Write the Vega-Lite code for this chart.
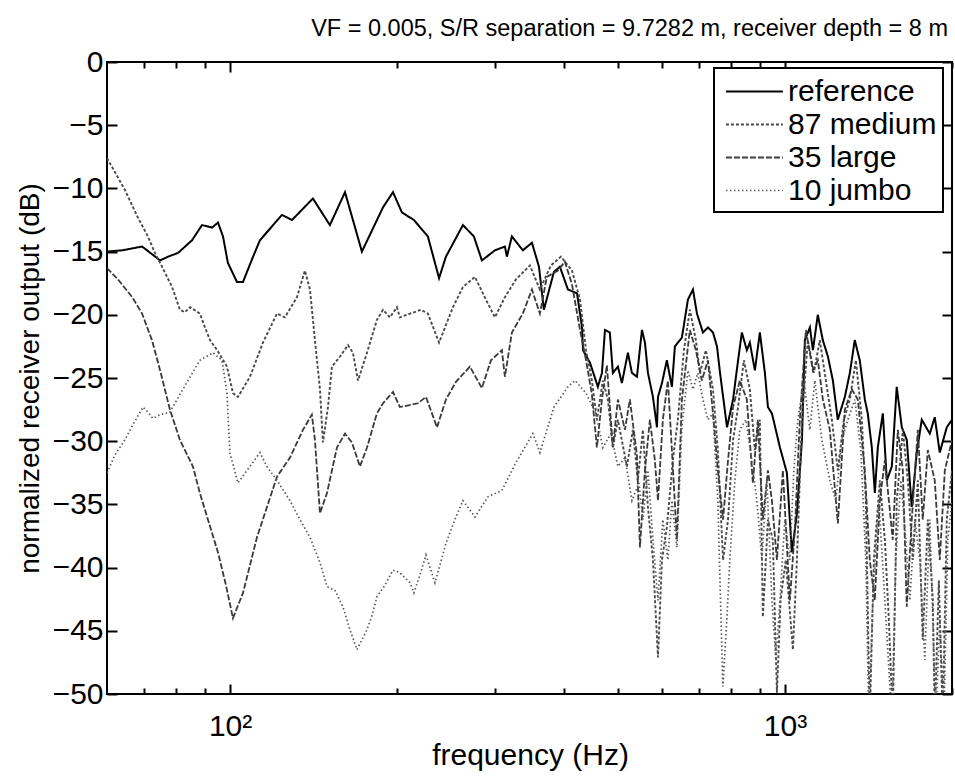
{
"$schema": "https://vega.github.io/schema/vega-lite/v6.json",
"width": 845, "height": 632,
"autosize": {"type": "none"},
"padding": {"left": 107, "top": 62, "right": 3, "bottom": 83},
"background": "white",
"title": {"text": "VF = 0.005, S/R separation = 9.7282 m, receiver depth = 8 m", "anchor": "end", "frame": "group", "font": "Liberation Sans", "fontSize": 23.5, "fontWeight": "normal", "color": "#000", "baseline": "alphabetic", "offset": -12, "dx": -4},
"config": {"view": {"stroke": "#000", "strokeWidth": 2}, "font": "Liberation Sans", "legend": {"strokeWidth": 2}},
"datasets": {
"d": [
{"s":"reference","f":60,"dB":-15.0},{"s":"reference","f":63.9,"dB":-14.9},{"s":"reference","f":69.4,"dB":-14.6},{"s":"reference","f":74.8,"dB":-15.7},{"s":"reference","f":77.3,"dB":-15.4},{"s":"reference","f":80.6,"dB":-15.1},{"s":"reference","f":85.4,"dB":-14.1},{"s":"reference","f":89.0,"dB":-12.9},{"s":"reference","f":92.8,"dB":-13.1},{"s":"reference","f":95.1,"dB":-12.7},{"s":"reference","f":97.1,"dB":-13.8},{"s":"reference","f":99.1,"dB":-15.9},{"s":"reference","f":102.9,"dB":-17.4},{"s":"reference","f":105.5,"dB":-17.4},{"s":"reference","f":110.0,"dB":-15.4},{"s":"reference","f":113.2,"dB":-14.1},{"s":"reference","f":124.0,"dB":-12.1},{"s":"reference","f":129.3,"dB":-12.5},{"s":"reference","f":141.0,"dB":-10.8},{"s":"reference","f":151.3,"dB":-12.9},{"s":"reference","f":161.1,"dB":-10.3},{"s":"reference","f":172.8,"dB":-15.0},{"s":"reference","f":188.6,"dB":-11.5},{"s":"reference","f":196.6,"dB":-10.3},{"s":"reference","f":204.0,"dB":-11.9},{"s":"reference","f":214.4,"dB":-12.5},{"s":"reference","f":227.2,"dB":-13.8},{"s":"reference","f":238.0,"dB":-17.1},{"s":"reference","f":244.9,"dB":-15.4},{"s":"reference","f":262.8,"dB":-12.9},{"s":"reference","f":275.0,"dB":-13.8},{"s":"reference","f":284.3,"dB":-15.7},{"s":"reference","f":300.1,"dB":-14.9},{"s":"reference","f":312.8,"dB":-14.6},{"s":"reference","f":315.4,"dB":-15.4},{"s":"reference","f":322.0,"dB":-13.8},{"s":"reference","f":337.0,"dB":-14.9},{"s":"reference","f":349.9,"dB":-14.3},{"s":"reference","f":360.3,"dB":-16.2},{"s":"reference","f":367.7,"dB":-19.6},{"s":"reference","f":383.4,"dB":-16.6},{"s":"reference","f":393.0,"dB":-16.2},{"s":"reference","f":406.3,"dB":-18.0},{"s":"reference","f":421.9,"dB":-18.3},{"s":"reference","f":430.8,"dB":-21.0},{"s":"reference","f":432.5,"dB":-22.8},{"s":"reference","f":445.3,"dB":-23.8},{"s":"reference","f":460.1,"dB":-25.7},{"s":"reference","f":467.9,"dB":-24.6},{"s":"reference","f":473.8,"dB":-21.2},{"s":"reference","f":483.5,"dB":-21.4},{"s":"reference","f":489.6,"dB":-24.6},{"s":"reference","f":499.9,"dB":-24.1},{"s":"reference","f":508.3,"dB":-25.4},{"s":"reference","f":521.1,"dB":-23.0},{"s":"reference","f":529.9,"dB":-24.6},{"s":"reference","f":541.0,"dB":-24.9},{"s":"reference","f":552.4,"dB":-21.2},{"s":"reference","f":559.3,"dB":-22.2},{"s":"reference","f":566.3,"dB":-24.6},{"s":"reference","f":578.2,"dB":-26.5},{"s":"reference","f":587.9,"dB":-28.9},{"s":"reference","f":590.4,"dB":-26.5},{"s":"reference","f":600.2,"dB":-25.4},{"s":"reference","f":612.6,"dB":-23.6},{"s":"reference","f":625.5,"dB":-25.7},{"s":"reference","f":633.3,"dB":-22.5},{"s":"reference","f":652.0,"dB":-21.8},{"s":"reference","f":668.5,"dB":-18.8},{"s":"reference","f":682.6,"dB":-18.0},{"s":"reference","f":694.0,"dB":-19.9},{"s":"reference","f":711.5,"dB":-21.4},{"s":"reference","f":726.4,"dB":-21.0},{"s":"reference","f":741.8,"dB":-21.4},{"s":"reference","f":754.2,"dB":-22.5},{"s":"reference","f":763.8,"dB":-24.6},{"s":"reference","f":786.3,"dB":-28.9},{"s":"reference","f":806.2,"dB":-26.7},{"s":"reference","f":823.2,"dB":-23.6},{"s":"reference","f":836.2,"dB":-21.4},{"s":"reference","f":853.7,"dB":-22.8},{"s":"reference","f":864.4,"dB":-22.2},{"s":"reference","f":882.6,"dB":-24.4},{"s":"reference","f":901.1,"dB":-21.4},{"s":"reference","f":920.1,"dB":-24.6},{"s":"reference","f":931.7,"dB":-27.3},{"s":"reference","f":947.3,"dB":-27.8},{"s":"reference","f":979.4,"dB":-30.5},{"s":"reference","f":1008,"dB":-32.5},{"s":"reference","f":1029,"dB":-38.8},{"s":"reference","f":1051,"dB":-35.7},{"s":"reference","f":1073,"dB":-29.9},{"s":"reference","f":1086,"dB":-22.0},{"s":"reference","f":1109,"dB":-21.0},{"s":"reference","f":1123,"dB":-22.8},{"s":"reference","f":1146,"dB":-20.0},{"s":"reference","f":1170,"dB":-22.0},{"s":"reference","f":1195,"dB":-23.3},{"s":"reference","f":1220,"dB":-25.2},{"s":"reference","f":1245,"dB":-28.3},{"s":"reference","f":1282,"dB":-26.5},{"s":"reference","f":1309,"dB":-24.6},{"s":"reference","f":1336,"dB":-22.0},{"s":"reference","f":1364,"dB":-23.6},{"s":"reference","f":1393,"dB":-26.7},{"s":"reference","f":1410,"dB":-27.8},{"s":"reference","f":1434,"dB":-30.5},{"s":"reference","f":1452,"dB":-34.1},{"s":"reference","f":1470,"dB":-30.5},{"s":"reference","f":1501,"dB":-27.8},{"s":"reference","f":1526,"dB":-33.1},{"s":"reference","f":1558,"dB":-32.0},{"s":"reference","f":1590,"dB":-25.7},{"s":"reference","f":1624,"dB":-28.9},{"s":"reference","f":1658,"dB":-29.9},{"s":"reference","f":1692,"dB":-35.2},{"s":"reference","f":1728,"dB":-30.9},{"s":"reference","f":1764,"dB":-28.3},{"s":"reference","f":1824,"dB":-29.4},{"s":"reference","f":1862,"dB":-28.1},{"s":"reference","f":1901,"dB":-30.9},{"s":"reference","f":1957,"dB":-28.9},{"s":"reference","f":2000,"dB":-28.3},

{"s":"87 medium","f":60,"dB":-7.6},{"s":"87 medium","f":64.6,"dB":-10.1},{"s":"87 medium","f":68.2,"dB":-12.3},{"s":"87 medium","f":71.1,"dB":-13.8},{"s":"87 medium","f":73.2,"dB":-15.1},{"s":"87 medium","f":75.4,"dB":-16.2},{"s":"87 medium","f":78.6,"dB":-17.8},{"s":"87 medium","f":81.2,"dB":-19.6},{"s":"87 medium","f":82.9,"dB":-19.8},{"s":"87 medium","f":84.7,"dB":-19.4},{"s":"87 medium","f":88.2,"dB":-19.9},{"s":"87 medium","f":90.1,"dB":-21.0},{"s":"87 medium","f":92.0,"dB":-22.0},{"s":"87 medium","f":95.1,"dB":-22.9},{"s":"87 medium","f":98.7,"dB":-24.1},{"s":"87 medium","f":101.2,"dB":-26.2},{"s":"87 medium","f":103.3,"dB":-26.5},{"s":"87 medium","f":108.6,"dB":-24.9},{"s":"87 medium","f":114.6,"dB":-22.2},{"s":"87 medium","f":121.5,"dB":-19.9},{"s":"87 medium","f":125.5,"dB":-20.2},{"s":"87 medium","f":132.0,"dB":-18.6},{"s":"87 medium","f":136.4,"dB":-16.5},{"s":"87 medium","f":139.3,"dB":-18.0},{"s":"87 medium","f":142.2,"dB":-22.0},{"s":"87 medium","f":145.2,"dB":-25.9},{"s":"87 medium","f":147.0,"dB":-30.1},{"s":"87 medium","f":150.1,"dB":-27.3},{"s":"87 medium","f":152.6,"dB":-24.1},{"s":"87 medium","f":157.8,"dB":-23.3},{"s":"87 medium","f":163.1,"dB":-22.4},{"s":"87 medium","f":166.5,"dB":-23.0},{"s":"87 medium","f":170.0,"dB":-25.2},{"s":"87 medium","f":176.5,"dB":-23.0},{"s":"87 medium","f":183.9,"dB":-20.4},{"s":"87 medium","f":188.6,"dB":-19.6},{"s":"87 medium","f":194.1,"dB":-20.2},{"s":"87 medium","f":199.8,"dB":-19.4},{"s":"87 medium","f":202.3,"dB":-20.2},{"s":"87 medium","f":220.7,"dB":-19.6},{"s":"87 medium","f":227.2,"dB":-19.9},{"s":"87 medium","f":238.0,"dB":-22.2},{"s":"87 medium","f":252.1,"dB":-19.4},{"s":"87 medium","f":262.8,"dB":-17.8},{"s":"87 medium","f":276.2,"dB":-17.0},{"s":"87 medium","f":289.1,"dB":-18.8},{"s":"87 medium","f":300.1,"dB":-20.2},{"s":"87 medium","f":312.8,"dB":-18.6},{"s":"87 medium","f":327.4,"dB":-17.2},{"s":"87 medium","f":347.0,"dB":-16.1},{"s":"87 medium","f":361.7,"dB":-18.0},{"s":"87 medium","f":378.6,"dB":-16.1},{"s":"87 medium","f":394.7,"dB":-15.4},{"s":"87 medium","f":413.2,"dB":-16.5},{"s":"87 medium","f":427.2,"dB":-18.8},{"s":"87 medium","f":438.0,"dB":-22.8},{"s":"87 medium","f":448.8,"dB":-25.2},{"s":"87 medium","f":458.2,"dB":-28.3},{"s":"87 medium","f":469.7,"dB":-25.2},{"s":"87 medium","f":479.6,"dB":-26.7},{"s":"87 medium","f":489.6,"dB":-30.5},{"s":"87 medium","f":499.9,"dB":-28.3},{"s":"87 medium","f":519.0,"dB":-32.0},{"s":"87 medium","f":532.0,"dB":-29.1},{"s":"87 medium","f":543.1,"dB":-33.1},{"s":"87 medium","f":554.5,"dB":-29.1},{"s":"87 medium","f":566.3,"dB":-35.2},{"s":"87 medium","f":578.2,"dB":-39.4},{"s":"87 medium","f":590.4,"dB":-47.1},{"s":"87 medium","f":600.2,"dB":-39.4},{"s":"87 medium","f":612.6,"dB":-36.8},{"s":"87 medium","f":628.0,"dB":-31.5},{"s":"87 medium","f":641.2,"dB":-28.3},{"s":"87 medium","f":657.4,"dB":-22.8},{"s":"87 medium","f":673.9,"dB":-19.6},{"s":"87 medium","f":690.9,"dB":-22.0},{"s":"87 medium","f":702.7,"dB":-24.6},{"s":"87 medium","f":720.2,"dB":-22.8},{"s":"87 medium","f":741.8,"dB":-25.9},{"s":"87 medium","f":756.9,"dB":-30.7},{"s":"87 medium","f":773.4,"dB":-39.4},{"s":"87 medium","f":789.6,"dB":-36.2},{"s":"87 medium","f":806.2,"dB":-29.9},{"s":"87 medium","f":823.2,"dB":-27.3},{"s":"87 medium","f":843.2,"dB":-23.6},{"s":"87 medium","f":864.4,"dB":-25.9},{"s":"87 medium","f":882.6,"dB":-30.7},{"s":"87 medium","f":901.1,"dB":-28.3},{"s":"87 medium","f":912.4,"dB":-43.9},{"s":"87 medium","f":931.7,"dB":-36.2},{"s":"87 medium","f":950.8,"dB":-37.8},{"s":"87 medium","f":967.2,"dB":-49.9},{"s":"87 medium","f":982.0,"dB":-42.6},{"s":"87 medium","f":1003.3,"dB":-39.4},{"s":"87 medium","f":1033.5,"dB":-46.5},{"s":"87 medium","f":1050.8,"dB":-39.4},{"s":"87 medium","f":1072.8,"dB":-28.3},{"s":"87 medium","f":1099.6,"dB":-22.0},{"s":"87 medium","f":1127.3,"dB":-24.6},{"s":"87 medium","f":1155.7,"dB":-22.0},{"s":"87 medium","f":1184.9,"dB":-25.2},{"s":"87 medium","f":1214.8,"dB":-28.3},{"s":"87 medium","f":1245.4,"dB":-32.3},{"s":"87 medium","f":1276.8,"dB":-28.3},{"s":"87 medium","f":1308.8,"dB":-26.7},{"s":"87 medium","f":1342.0,"dB":-23.6},{"s":"87 medium","f":1375.8,"dB":-28.3},{"s":"87 medium","f":1398.8,"dB":-34.7},{"s":"87 medium","f":1421.8,"dB":-52},{"s":"87 medium","f":1446.1,"dB":-39.4},{"s":"87 medium","f":1482.5,"dB":-33.1},{"s":"87 medium","f":1513.6,"dB":-37.8},{"s":"87 medium","f":1538.9,"dB":-44.1},{"s":"87 medium","f":1564.1,"dB":-52},{"s":"87 medium","f":1590.3,"dB":-34.7},{"s":"87 medium","f":1630.9,"dB":-29.1},{"s":"87 medium","f":1665.1,"dB":-33.1},{"s":"87 medium","f":1700.0,"dB":-39.4},{"s":"87 medium","f":1735.7,"dB":-33.1},{"s":"87 medium","f":1771.4,"dB":-45.7},{"s":"87 medium","f":1809.2,"dB":-36.2},{"s":"87 medium","f":1847.1,"dB":-42.6},{"s":"87 medium","f":1861.9,"dB":-52},{"s":"87 medium","f":1893.7,"dB":-41.0},{"s":"87 medium","f":1924.8,"dB":-52},{"s":"87 medium","f":1957.0,"dB":-36.2},{"s":"87 medium","f":2000,"dB":-32.3},

{"s":"35 large","f":60,"dB":-16.3},{"s":"35 large","f":62.8,"dB":-17.2},{"s":"35 large","f":66.6,"dB":-18.6},{"s":"35 large","f":69.4,"dB":-19.9},{"s":"35 large","f":72.3,"dB":-22.0},{"s":"35 large","f":74.8,"dB":-24.4},{"s":"35 large","f":77.9,"dB":-27.5},{"s":"35 large","f":81.2,"dB":-29.9},{"s":"35 large","f":85.7,"dB":-32.0},{"s":"35 large","f":88.2,"dB":-34.1},{"s":"35 large","f":95.1,"dB":-38.8},{"s":"35 large","f":98.3,"dB":-41.4},{"s":"35 large","f":101.2,"dB":-44.0},{"s":"35 large","f":105.5,"dB":-42.0},{"s":"35 large","f":111.8,"dB":-37.6},{"s":"35 large","f":121.5,"dB":-32.8},{"s":"35 large","f":128.2,"dB":-31.3},{"s":"35 large","f":135.3,"dB":-29.1},{"s":"35 large","f":140.4,"dB":-27.9},{"s":"35 large","f":142.2,"dB":-29.9},{"s":"35 large","f":145.2,"dB":-35.7},{"s":"35 large","f":149.5,"dB":-34.1},{"s":"35 large","f":155.8,"dB":-30.5},{"s":"35 large","f":161.1,"dB":-29.4},{"s":"35 large","f":165.8,"dB":-30.1},{"s":"35 large","f":171.4,"dB":-32.0},{"s":"35 large","f":176.5,"dB":-30.5},{"s":"35 large","f":183.9,"dB":-27.8},{"s":"35 large","f":188.6,"dB":-27.0},{"s":"35 large","f":196.6,"dB":-26.1},{"s":"35 large","f":202.3,"dB":-27.3},{"s":"35 large","f":218.0,"dB":-27.0},{"s":"35 large","f":225.4,"dB":-26.5},{"s":"35 large","f":236.0,"dB":-28.9},{"s":"35 large","f":244.9,"dB":-26.7},{"s":"35 large","f":255.3,"dB":-25.3},{"s":"35 large","f":270.5,"dB":-24.1},{"s":"35 large","f":284.3,"dB":-25.8},{"s":"35 large","f":295.2,"dB":-23.6},{"s":"35 large","f":308.9,"dB":-22.8},{"s":"35 large","f":312.8,"dB":-24.9},{"s":"35 large","f":322.0,"dB":-21.4},{"s":"35 large","f":337.0,"dB":-19.9},{"s":"35 large","f":349.9,"dB":-18.0},{"s":"35 large","f":361.7,"dB":-19.9},{"s":"35 large","f":372.3,"dB":-17.0},{"s":"35 large","f":389.8,"dB":-16.5},{"s":"35 large","f":401.2,"dB":-15.8},{"s":"35 large","f":413.2,"dB":-17.6},{"s":"35 large","f":427.2,"dB":-21.2},{"s":"35 large","f":438.0,"dB":-23.6},{"s":"35 large","f":448.8,"dB":-26.3},{"s":"35 large","f":458.2,"dB":-30.5},{"s":"35 large","f":467.9,"dB":-26.7},{"s":"35 large","f":477.6,"dB":-24.0},{"s":"35 large","f":489.6,"dB":-30.5},{"s":"35 large","f":499.9,"dB":-26.7},{"s":"35 large","f":514.7,"dB":-29.1},{"s":"35 large","f":525.4,"dB":-26.7},{"s":"35 large","f":541.0,"dB":-31.1},{"s":"35 large","f":547.8,"dB":-38.4},{"s":"35 large","f":559.3,"dB":-32.3},{"s":"35 large","f":570.9,"dB":-28.3},{"s":"35 large","f":582.8,"dB":-31.5},{"s":"35 large","f":590.4,"dB":-34.7},{"s":"35 large","f":602.5,"dB":-28.3},{"s":"35 large","f":615.1,"dB":-25.2},{"s":"35 large","f":625.5,"dB":-30.7},{"s":"35 large","f":638.6,"dB":-37.8},{"s":"35 large","f":652.0,"dB":-26.7},{"s":"35 large","f":673.9,"dB":-21.2},{"s":"35 large","f":690.9,"dB":-22.8},{"s":"35 large","f":708.3,"dB":-25.2},{"s":"35 large","f":726.4,"dB":-23.6},{"s":"35 large","f":741.8,"dB":-27.8},{"s":"35 large","f":756.9,"dB":-32.3},{"s":"35 large","f":773.4,"dB":-36.2},{"s":"35 large","f":789.6,"dB":-31.5},{"s":"35 large","f":806.2,"dB":-27.3},{"s":"35 large","f":829.3,"dB":-25.2},{"s":"35 large","f":853.7,"dB":-26.7},{"s":"35 large","f":875.3,"dB":-33.3},{"s":"35 large","f":893.5,"dB":-28.3},{"s":"35 large","f":912.4,"dB":-36.2},{"s":"35 large","f":931.7,"dB":-32.3},{"s":"35 large","f":947.3,"dB":-34.7},{"s":"35 large","f":967.2,"dB":-39.4},{"s":"35 large","f":991.3,"dB":-32.3},{"s":"35 large","f":1020.5,"dB":-42.6},{"s":"35 large","f":1041.9,"dB":-37.0},{"s":"35 large","f":1063.7,"dB":-28.3},{"s":"35 large","f":1090.6,"dB":-21.2},{"s":"35 large","f":1122.8,"dB":-24.4},{"s":"35 large","f":1146.3,"dB":-23.6},{"s":"35 large","f":1170.3,"dB":-26.7},{"s":"35 large","f":1204.7,"dB":-29.1},{"s":"35 large","f":1245.4,"dB":-36.5},{"s":"35 large","f":1282.0,"dB":-27.5},{"s":"35 large","f":1319.7,"dB":-25.9},{"s":"35 large","f":1353.0,"dB":-26.7},{"s":"35 large","f":1392.7,"dB":-32.3},{"s":"35 large","f":1421.8,"dB":-39.4},{"s":"35 large","f":1451.6,"dB":-42.6},{"s":"35 large","f":1482.5,"dB":-34.7},{"s":"35 large","f":1513.6,"dB":-31.5},{"s":"35 large","f":1564.1,"dB":-37.8},{"s":"35 large","f":1597.4,"dB":-29.1},{"s":"35 large","f":1630.9,"dB":-32.3},{"s":"35 large","f":1657.6,"dB":-43.1},{"s":"35 large","f":1692.4,"dB":-36.2},{"s":"35 large","f":1735.7,"dB":-29.1},{"s":"35 large","f":1771.4,"dB":-36.2},{"s":"35 large","f":1809.2,"dB":-30.7},{"s":"35 large","f":1861.9,"dB":-33.1},{"s":"35 large","f":1901.0,"dB":-39.4},{"s":"35 large","f":1941.4,"dB":-32.3},{"s":"35 large","f":2000,"dB":-29.9},

{"s":"10 jumbo","f":60,"dB":-32.5},{"s":"10 jumbo","f":62.0,"dB":-31.1},{"s":"10 jumbo","f":64.6,"dB":-29.9},{"s":"10 jumbo","f":66.8,"dB":-28.7},{"s":"10 jumbo","f":69.7,"dB":-27.3},{"s":"10 jumbo","f":71.1,"dB":-27.7},{"s":"10 jumbo","f":72.6,"dB":-28.2},{"s":"10 jumbo","f":74.8,"dB":-27.9},{"s":"10 jumbo","f":77.9,"dB":-27.7},{"s":"10 jumbo","f":82.2,"dB":-25.9},{"s":"10 jumbo","f":88.2,"dB":-23.6},{"s":"10 jumbo","f":93.2,"dB":-23.0},{"s":"10 jumbo","f":96.7,"dB":-23.6},{"s":"10 jumbo","f":98.7,"dB":-26.2},{"s":"10 jumbo","f":99.9,"dB":-30.9},{"s":"10 jumbo","f":103.3,"dB":-33.3},{"s":"10 jumbo","f":107.3,"dB":-32.3},{"s":"10 jumbo","f":113.2,"dB":-30.9},{"s":"10 jumbo","f":116.5,"dB":-32.0},{"s":"10 jumbo","f":121.5,"dB":-33.1},{"s":"10 jumbo","f":128.2,"dB":-34.7},{"s":"10 jumbo","f":133.6,"dB":-36.2},{"s":"10 jumbo","f":139.3,"dB":-37.6},{"s":"10 jumbo","f":145.2,"dB":-39.6},{"s":"10 jumbo","f":149.5,"dB":-41.5},{"s":"10 jumbo","f":154.5,"dB":-41.8},{"s":"10 jumbo","f":159.7,"dB":-43.1},{"s":"10 jumbo","f":164.4,"dB":-44.9},{"s":"10 jumbo","f":169.3,"dB":-46.5},{"s":"10 jumbo","f":176.5,"dB":-44.9},{"s":"10 jumbo","f":180.2,"dB":-43.8},{"s":"10 jumbo","f":183.9,"dB":-42.3},{"s":"10 jumbo","f":190.1,"dB":-41.4},{"s":"10 jumbo","f":196.6,"dB":-40.2},{"s":"10 jumbo","f":202.3,"dB":-40.4},{"s":"10 jumbo","f":210.9,"dB":-41.2},{"s":"10 jumbo","f":214.4,"dB":-42.0},{"s":"10 jumbo","f":219.8,"dB":-40.6},{"s":"10 jumbo","f":225.4,"dB":-39.0},{"s":"10 jumbo","f":234.0,"dB":-41.2},{"s":"10 jumbo","f":244.9,"dB":-38.1},{"s":"10 jumbo","f":254.2,"dB":-36.2},{"s":"10 jumbo","f":262.8,"dB":-34.7},{"s":"10 jumbo","f":276.2,"dB":-36.0},{"s":"10 jumbo","f":291.5,"dB":-34.4},{"s":"10 jumbo","f":308.9,"dB":-33.9},{"s":"10 jumbo","f":327.4,"dB":-31.7},{"s":"10 jumbo","f":351.3,"dB":-29.4},{"s":"10 jumbo","f":361.7,"dB":-30.9},{"s":"10 jumbo","f":383.4,"dB":-27.3},{"s":"10 jumbo","f":406.3,"dB":-25.7},{"s":"10 jumbo","f":418.4,"dB":-25.2},{"s":"10 jumbo","f":438.0,"dB":-26.2},{"s":"10 jumbo","f":456.3,"dB":-27.8},{"s":"10 jumbo","f":469.7,"dB":-30.5},{"s":"10 jumbo","f":485.6,"dB":-29.4},{"s":"10 jumbo","f":499.9,"dB":-32.0},{"s":"10 jumbo","f":514.7,"dB":-31.3},{"s":"10 jumbo","f":529.9,"dB":-34.7},{"s":"10 jumbo","f":545.6,"dB":-33.3},{"s":"10 jumbo","f":554.5,"dB":-36.2},{"s":"10 jumbo","f":566.3,"dB":-32.3},{"s":"10 jumbo","f":578.2,"dB":-37.8},{"s":"10 jumbo","f":590.4,"dB":-42.6},{"s":"10 jumbo","f":602.5,"dB":-36.2},{"s":"10 jumbo","f":615.1,"dB":-39.4},{"s":"10 jumbo","f":625.5,"dB":-34.7},{"s":"10 jumbo","f":638.6,"dB":-38.4},{"s":"10 jumbo","f":652.0,"dB":-28.9},{"s":"10 jumbo","f":668.5,"dB":-24.4},{"s":"10 jumbo","f":682.6,"dB":-25.9},{"s":"10 jumbo","f":696.6,"dB":-24.6},{"s":"10 jumbo","f":711.5,"dB":-26.7},{"s":"10 jumbo","f":726.4,"dB":-28.3},{"s":"10 jumbo","f":741.8,"dB":-27.8},{"s":"10 jumbo","f":756.9,"dB":-34.7},{"s":"10 jumbo","f":772.8,"dB":-49.4},{"s":"10 jumbo","f":785.7,"dB":-44.1},{"s":"10 jumbo","f":795.5,"dB":-39.4},{"s":"10 jumbo","f":812.2,"dB":-33.1},{"s":"10 jumbo","f":829.3,"dB":-29.1},{"s":"10 jumbo","f":850.2,"dB":-28.3},{"s":"10 jumbo","f":871.6,"dB":-31.5},{"s":"10 jumbo","f":890.0,"dB":-34.7},{"s":"10 jumbo","f":908.5,"dB":-39.4},{"s":"10 jumbo","f":927.6,"dB":-33.1},{"s":"10 jumbo","f":947.3,"dB":-42.6},{"s":"10 jumbo","f":962.9,"dB":-47.3},{"s":"10 jumbo","f":979.4,"dB":-42.6},{"s":"10 jumbo","f":999.5,"dB":-36.2},{"s":"10 jumbo","f":1020.5,"dB":-39.4},{"s":"10 jumbo","f":1037.5,"dB":-32.3},{"s":"10 jumbo","f":1054.9,"dB":-28.3},{"s":"10 jumbo","f":1081.5,"dB":-25.2},{"s":"10 jumbo","f":1108.7,"dB":-29.1},{"s":"10 jumbo","f":1132.0,"dB":-25.2},{"s":"10 jumbo","f":1165.3,"dB":-29.9},{"s":"10 jumbo","f":1204.7,"dB":-33.1},{"s":"10 jumbo","f":1235.1,"dB":-34.7},{"s":"10 jumbo","f":1266.2,"dB":-29.9},{"s":"10 jumbo","f":1298.1,"dB":-28.3},{"s":"10 jumbo","f":1336.4,"dB":-26.7},{"s":"10 jumbo","f":1370.1,"dB":-30.7},{"s":"10 jumbo","f":1398.8,"dB":-39.4},{"s":"10 jumbo","f":1416.3,"dB":-52},{"s":"10 jumbo","f":1440.0,"dB":-42.6},{"s":"10 jumbo","f":1476.3,"dB":-34.7},{"s":"10 jumbo","f":1513.6,"dB":-42.6},{"s":"10 jumbo","f":1558.0,"dB":-52},{"s":"10 jumbo","f":1584.0,"dB":-39.4},{"s":"10 jumbo","f":1617.2,"dB":-33.1},{"s":"10 jumbo","f":1651.1,"dB":-37.8},{"s":"10 jumbo","f":1678.8,"dB":-42.6},{"s":"10 jumbo","f":1714.0,"dB":-36.2},{"s":"10 jumbo","f":1749.9,"dB":-39.4},{"s":"10 jumbo","f":1786.6,"dB":-47.3},{"s":"10 jumbo","f":1823.7,"dB":-36.2},{"s":"10 jumbo","f":1870.2,"dB":-52},{"s":"10 jumbo","f":1901.5,"dB":-44.1},{"s":"10 jumbo","f":1933.3,"dB":-52},{"s":"10 jumbo","f":1965.7,"dB":-37.8},{"s":"10 jumbo","f":2000,"dB":-34.7}
]
},
"data": {"name": "d"},
"layer": [
{
"mark": {"type": "line", "clip": true},
"encoding": {
"x": {"field": "f", "type": "quantitative", "scale": {"type": "log", "domain": [60, 2000], "nice": false},
 "axis": {"orient": "bottom", "values": [70,80,90,100,200,300,400,500,600,700,800,900,1000,2000],
  "labelExpr": "datum.value == 100 ? '10²' : datum.value == 1000 ? '10³' : ''",
  "labelFont": "Liberation Sans", "labelFontSize": 30, "labelColor": "#000", "labelPadding": 27, "labelFlush": false, "labelOverlap": false,
  "tickSize": {"condition": {"test": "datum.value == 100 || datum.value == 1000", "value": -10}, "value": -6},
  "tickWidth": 2, "tickColor": "#000", "domain": false, "grid": false,
  "title": "frequency (Hz)", "titleFont": "Liberation Sans", "titleFontSize": 30, "titleFontWeight": "normal", "titleColor": "#000",
  "titleX": 423, "titleY": 70, "titleBaseline": "alphabetic", "titleAlign": "center"}},
"y": {"field": "dB", "type": "quantitative", "scale": {"domain": [-50, 0], "nice": false, "zero": false},
 "axis": {"orient": "left", "values": [-50,-45,-40,-35,-30,-25,-20,-15,-10,-5,0],
  "labelExpr": "datum.value < 0 ? '−' + abs(datum.value) : '0'",
  "labelFont": "Liberation Sans", "labelFontSize": 30, "labelColor": "#000", "labelPadding": 14, "labelFlush": false, "labelOverlap": false,
  "tickSize": -10, "tickWidth": 2, "tickColor": "#000", "domain": false, "grid": false,
  "title": "normalized receiver output (dB)", "titleFont": "Liberation Sans", "titleFontSize": 28, "titleFontWeight": "normal", "titleColor": "#000",
  "titleX": -69, "titleY": 316, "titleAngle": -90, "titleBaseline": "alphabetic", "titleAlign": "center"}},
"color": {"field": "s", "type": "nominal",
 "scale": {"domain": ["reference","87 medium","35 large","10 jumbo"], "range": ["#000000","#4a4a4a","#3a3a3a","#5a5a5a"]},
 "legend": {"title": null, "orient": "none", "legendX": 607, "legendY": 6, "direction": "vertical", "symbolType": "M-0.7,0H2.75", "symbolSize": 1089, "symbolStrokeWidth": 1.5,
  "labelFont": "Liberation Sans", "labelFontSize": 30, "labelColor": "#000", "labelOffset": 33, "labelLimit": 500, "padding": 6, "rowPadding": 0,
  "strokeColor": "#000", "fillColor": "#fff"}},
"strokeDash": {"field": "s", "type": "nominal",
 "scale": {"domain": ["reference","87 medium","35 large","10 jumbo"], "range": [[1,0],[3,2],[6,2],[1.5,2.5]]},
 "legend": {"title": null, "orient": "none", "legendX": 607, "legendY": 6, "direction": "vertical", "symbolType": "M-0.7,0H2.75", "symbolSize": 1089, "symbolStrokeWidth": 1.5,
  "labelFont": "Liberation Sans", "labelFontSize": 30, "labelColor": "#000", "labelOffset": 33, "labelLimit": 500, "padding": 6, "rowPadding": 0,
  "strokeColor": "#000", "fillColor": "#fff"}},
"strokeWidth": {"field": "s", "type": "nominal",
 "scale": {"domain": ["reference","87 medium","35 large","10 jumbo"], "range": [2, 1.7, 1.7, 1.7]}, "legend": null}
}
},
{
"transform": [{"filter": "datum.s == 'reference'"}],
"mark": {"type": "line", "strokeOpacity": 0, "opacity": 0},
"encoding": {
"x": {"field": "f", "type": "quantitative", "scale": {"type": "log", "domain": [60, 2000], "nice": false},
 "axis": {"orient": "top", "values": [70,80,90,100,200,300,400,500,600,700,800,900,1000,2000], "labels": false,
  "tickSize": {"condition": {"test": "datum.value == 100 || datum.value == 1000", "value": -10}, "value": -6},
  "tickWidth": 2, "tickColor": "#000", "domain": false, "grid": false, "title": null}},
"y": {"field": "dB", "type": "quantitative", "scale": {"domain": [-50, 0], "nice": false, "zero": false},
 "axis": {"orient": "right", "values": [-50,-45,-40,-35,-30,-25,-20,-15,-10,-5,0], "labels": false,
  "tickSize": -10, "tickWidth": 2, "tickColor": "#000", "domain": false, "grid": false, "title": null}}
}
}
],
"resolve": {"axis": {"x": "independent", "y": "independent"}}
}
